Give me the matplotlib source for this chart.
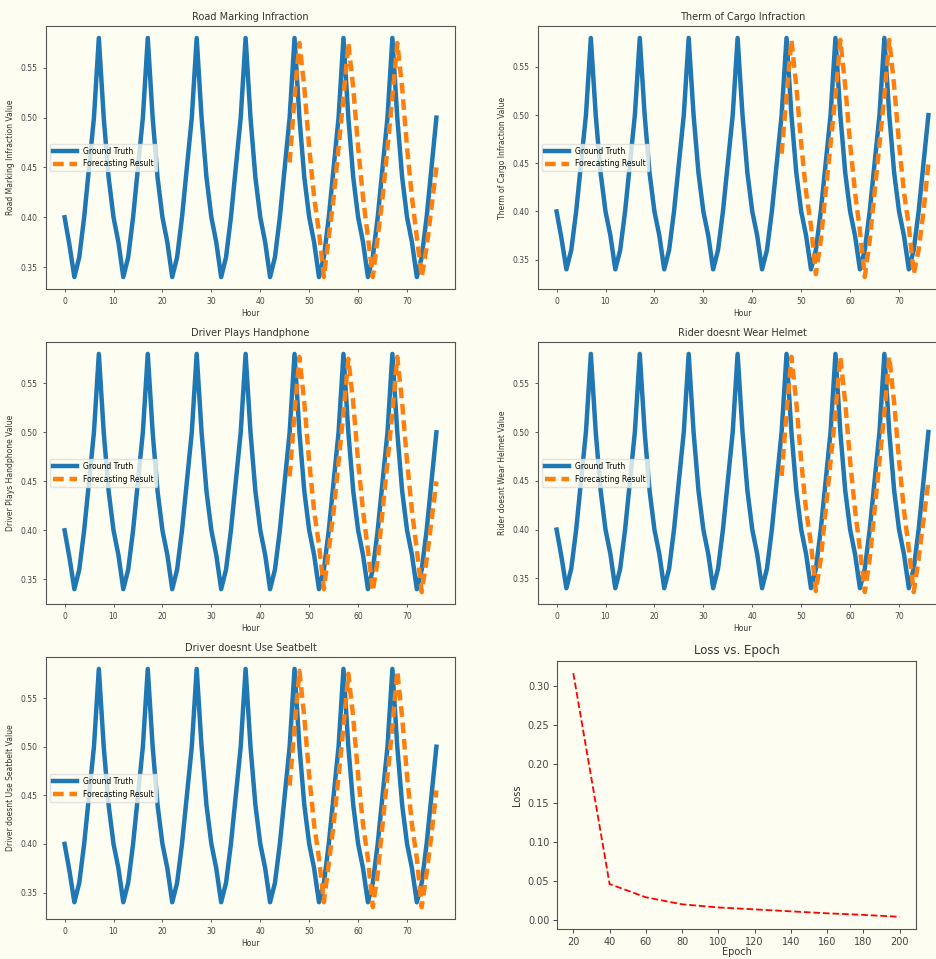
import numpy as np
import matplotlib
matplotlib.use("Agg")
import matplotlib.pyplot as plt

# hourly ground truth (same series in every panel)
hours = list(range(0, 77))
ground_truth = [0.40, 0.372, 0.34,
                0.36, 0.40, 0.45, 0.50, 0.58, 0.50, 0.44, 0.40, 0.375, 0.34,
                0.36, 0.40, 0.45, 0.50, 0.58, 0.50, 0.44, 0.40, 0.375, 0.34,
                0.36, 0.40, 0.45, 0.50, 0.58, 0.50, 0.44, 0.40, 0.375, 0.34,
                0.36, 0.40, 0.45, 0.50, 0.58, 0.50, 0.44, 0.40, 0.375, 0.34,
                0.36, 0.40, 0.45, 0.50, 0.58, 0.50, 0.44, 0.40, 0.375, 0.34,
                0.36, 0.40, 0.45, 0.50, 0.58, 0.50, 0.44, 0.40, 0.375, 0.34,
                0.36, 0.40, 0.45, 0.50, 0.58, 0.50, 0.44, 0.40, 0.375, 0.34,
                0.36, 0.40, 0.45, 0.50]

# forecast starts at hour 46
fc_hours = list(range(46, 77))
fc_road = [0.455, 0.52, 0.575, 0.53, 0.47, 0.42, 0.385, 0.34,
           0.38, 0.42, 0.47, 0.52, 0.575, 0.53, 0.47, 0.42, 0.38, 0.34,
           0.38, 0.42, 0.47, 0.52, 0.575, 0.53, 0.47, 0.42, 0.38, 0.34,
           0.37, 0.41, 0.45]
fc_cargo = [0.46, 0.52, 0.578, 0.53, 0.47, 0.42, 0.385, 0.335,
            0.37, 0.42, 0.47, 0.52, 0.578, 0.53, 0.47, 0.42, 0.38, 0.332,
            0.37, 0.42, 0.47, 0.52, 0.578, 0.53, 0.47, 0.42, 0.385, 0.335,
            0.36, 0.40, 0.45]
fc_phone = [0.455, 0.52, 0.577, 0.53, 0.47, 0.42, 0.385, 0.34,
            0.38, 0.42, 0.47, 0.52, 0.575, 0.53, 0.47, 0.42, 0.38, 0.338,
            0.37, 0.42, 0.47, 0.52, 0.577, 0.53, 0.47, 0.42, 0.38, 0.337,
            0.37, 0.41, 0.45]
fc_helmet = [0.455, 0.52, 0.577, 0.53, 0.47, 0.42, 0.385, 0.337,
             0.37, 0.42, 0.47, 0.52, 0.577, 0.53, 0.47, 0.42, 0.38, 0.336,
             0.37, 0.42, 0.47, 0.52, 0.577, 0.53, 0.47, 0.42, 0.38, 0.336,
             0.37, 0.41, 0.45]
fc_seatbelt = [0.46, 0.52, 0.578, 0.53, 0.47, 0.42, 0.385, 0.34,
               0.38, 0.42, 0.47, 0.52, 0.575, 0.53, 0.47, 0.42, 0.385, 0.335,
               0.37, 0.42, 0.47, 0.52, 0.578, 0.53, 0.47, 0.42, 0.385, 0.335,
               0.37, 0.41, 0.455]

titles = ["Road Marking Infraction", "Therm of Cargo Infraction", "Driver Plays Handphone",
          "Rider doesnt Wear Helmet", "Driver doesnt Use Seatbelt"]
ylabels = ["Road Marking Infraction Value", "Therm of Cargo Infraction Value",
           "Driver Plays Handphone Value", "Rider doesnt Wear Helmet Value",
           "Driver doesnt Use Seatbelt Value"]
forecasts = [fc_road, fc_cargo, fc_phone, fc_helmet, fc_seatbelt]

# loss curve
epochs = [20, 40, 60, 80, 100, 120, 140, 160, 180, 200]
loss = [0.316, 0.046, 0.029, 0.020, 0.016, 0.0135, 0.011, 0.0085, 0.0065, 0.004]

W, H = 936, 959
bg = "#fdfdf1"
fig = plt.figure(figsize=(W / 100, H / 100), dpi=100, facecolor=bg)


def px_axes(left, top, right, bottom):
    return fig.add_axes([left / W, 1 - bottom / H, (right - left) / W, (bottom - top) / H])


cols = [(46, 455), (538, 947)]
rows = [(26, 289), (342, 604), (657, 919)]
boxes = [(cols[0], rows[0]), (cols[1], rows[0]), (cols[0], rows[1]), (cols[1], rows[1]), (cols[0], rows[2])]

for ii in range(5):
    (l, r), (t, b) = boxes[ii]
    ax = px_axes(l, t, r, b)
    ax.set_facecolor(bg)
    ax.plot(hours, ground_truth, color="#1f77b4", linewidth=3.2, label="Ground Truth")
    ax.plot(fc_hours, forecasts[ii], color="#ff7f0e", linewidth=3.2, linestyle=(0, (2.4, 1.3)),
            label="Forecasting Result")
    ax.set_title(titles[ii], fontsize=7, color="#333333", pad=4)
    ax.set_xlabel("Hour", fontsize=5.5, color="#333333", labelpad=2)
    ax.set_ylabel(ylabels[ii], fontsize=5.5, color="#333333", labelpad=4)
    ax.set_xticks([0, 10, 20, 30, 40, 50, 60, 70])
    ax.set_yticks([0.35, 0.40, 0.45, 0.50, 0.55])
    ax.tick_params(labelsize=5.5, colors="#444444", length=2.5, width=0.6)
    for sp in ax.spines.values():
        sp.set_color("#555555")
        sp.set_linewidth(0.8)
    ax.legend(loc="center left", fontsize=5.5, frameon=True, handlelength=3.2, framealpha=0.8,
              edgecolor="#dddddd", facecolor=bg)

# loss vs epoch
ax = px_axes(557, 661, 916, 929)
ax.set_facecolor(bg)
ax.plot(epochs, loss, "r--", linewidth=1.3)
ax.set_title("Loss vs. Epoch", fontsize=8.5, color="#333333", pad=5)
ax.set_xlabel("Epoch", fontsize=7, color="#333333", labelpad=0)
ax.set_ylabel("Loss", fontsize=7, color="#333333", labelpad=4)
ax.set_xticks(epochs)
ax.tick_params(labelsize=7, colors="#444444", length=3, width=0.7, pad=2.5)
for sp in ax.spines.values():
    sp.set_color("#555555")
    sp.set_linewidth(0.8)

fig.savefig("out.png", dpi=100, facecolor=bg)
